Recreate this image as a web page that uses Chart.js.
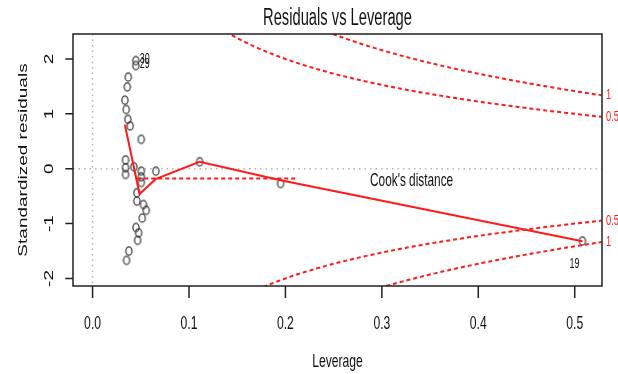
<!DOCTYPE html>
<html>
<head>
<meta charset="UTF-8">
<title>Residuals vs Leverage</title>
<script src="https://cdn.jsdelivr.net/npm/chart.js"></script>
<style>
  html, body { margin: 0; padding: 0; background: #fff; }
  #wrap { width: 618px; height: 374px; }
</style>
</head>
<body>
<div id="wrap"><canvas id="plot" width="618" height="374"></canvas></div>
<script>
// observations (index + 1 = observation number)
const leverage = [0.0342, 0.0342, 0.0342, 0.0428, 0.0505, 0.0505, 0.0505, 0.0459, 0.0459, 0.0656,
                  0.0528, 0.0556, 0.0515, 0.0450, 0.0477, 0.0467, 0.0376, 0.0352, 0.5080, 0.1110,
                  0.1950, 0.0370, 0.0360, 0.0335, 0.0349, 0.0366, 0.0390, 0.0505, 0.0449, 0.0449];
const stdResid = [0.16, 0.017, -0.105, 0.035, -0.044, -0.148, -0.25, -0.44, -0.59, -0.044,
                  -0.653, -0.757, -0.90, -1.07, -1.17, -1.305, -1.50, -1.67, -1.318, 0.126,
                  -0.27, 1.67, 1.49, 1.25, 1.08, 0.90, 0.78, 0.535, 1.88, 1.97];
const labelledObs = [30, 29, 19];

// red smoother through the points
const smoothX = [0.0335, 0.0487, 0.0653, 0.111, 0.195, 0.508];
const smoothY = [0.80, -0.46, -0.19, 0.125, -0.21, -1.32];

// dashed reference segment
const refX = [0.0463, 0.210];
const refY = [-0.177, -0.177];

// Cook's distance contour levels, model with 2 coefficients
const cookLevels = [0.5, 1];
const nCoef = 2;

const xTicks = [0.0, 0.1, 0.2, 0.3, 0.4, 0.5];
const xTickLabels = ['0.0', '0.1', '0.2', '0.3', '0.4', '0.5'];
const yTicks = [-2, -1, 0, 1, 2];
const yTickLabels = ['-2', '-1', '0', '1', '2'];

const SX = 0.64;   // horizontal squeeze of the text
const FONT = '"Liberation Sans", Arial, sans-serif';

function cookCurve(level, sign) {
  const pts = [];
  for (let h = 0.12; h <= 0.5284; h += 0.004) {
    pts.push({ x: h, y: sign * Math.sqrt(level * nCoef * (1 - h) / h) });
  }
  return pts;
}

// open circle marker, slightly taller than wide
const marker = document.createElement('canvas');
marker.width = 10; marker.height = 12;
(function () {
  const c = marker.getContext('2d');
  c.strokeStyle = '#333';
  c.lineWidth = 1.2;
  c.beginPath();
  c.ellipse(5, 6, 3.1, 4.1, 0, 0, Math.PI * 2);
  c.stroke();
})();

const points = leverage.map((h, i) => ({ x: h, y: stdResid[i] }));
const smooth = smoothX.map((x, i) => ({ x: x, y: smoothY[i] }));
const refLine = refX.map((x, i) => ({ x: x, y: refY[i] }));

const datasets = [];
cookLevels.forEach(lv => {
  [1, -1].forEach(sg => {
    datasets.push({
      data: cookCurve(lv, sg), showLine: true, borderColor: '#ff1a1a',
      borderWidth: 2, borderDash: [4, 3], pointRadius: 0, tension: 0
    });
  });
});
datasets.push({ data: refLine, showLine: true, borderColor: '#ff1a1a', borderWidth: 2,
  borderDash: [4, 3], pointRadius: 0 });
datasets.push({ data: smooth, showLine: true, borderColor: '#ff1a1a', borderWidth: 2,
  pointRadius: 0, tension: 0 });
datasets.push({ data: points, showLine: false, pointStyle: marker, pointRadius: 5 });

function hText(ctx, str, x, y, size, align, weight, color) {
  ctx.save();
  ctx.translate(x, y);
  ctx.scale(SX, 1);
  ctx.font = (weight || 'normal') + ' ' + size + 'px ' + FONT;
  ctx.textAlign = align || 'center';
  ctx.textBaseline = 'middle';
  ctx.fillStyle = color || '#111';
  ctx.fillText(str, 0, 0);
  ctx.restore();
}

function vText(ctx, str, x, y, size) {
  ctx.save();
  ctx.translate(x, y);
  ctx.scale(SX, 1);
  ctx.rotate(-Math.PI / 2);
  ctx.font = size + 'px ' + FONT;
  ctx.textAlign = 'center';
  ctx.textBaseline = 'middle';
  ctx.fillStyle = '#111';
  ctx.fillText(str, 0, 0);
  ctx.restore();
}

// zero lines drawn under the data
const zeroLines = {
  id: 'zeroLines',
  beforeDatasetsDraw(chart) {
    const { ctx, chartArea: a, scales: { x, y } } = chart;
    ctx.save();
    ctx.strokeStyle = '#b5b5b5';
    ctx.lineWidth = 1.5;
    ctx.setLineDash([1.5, 4]);
    const x0 = x.getPixelForValue(0), y0 = y.getPixelForValue(0);
    ctx.beginPath();
    ctx.moveTo(x0, a.top); ctx.lineTo(x0, a.bottom);
    ctx.moveTo(a.left, y0); ctx.lineTo(a.right, y0);
    ctx.stroke();
    ctx.restore();
  }
};

// box, axes and all text
const frame = {
  id: 'frame',
  afterDraw(chart) {
    const { ctx, chartArea: a, scales: { x, y } } = chart;
    ctx.save();
    ctx.strokeStyle = '#222';
    ctx.lineWidth = 1.5;
    ctx.strokeRect(a.left, a.top, a.right - a.left, a.bottom - a.top);
    ctx.beginPath();
    xTicks.forEach(v => {
      const px = x.getPixelForValue(v);
      ctx.moveTo(px, a.bottom); ctx.lineTo(px, a.bottom + 12);
    });
    yTicks.forEach(v => {
      const py = y.getPixelForValue(v);
      ctx.moveTo(a.left, py); ctx.lineTo(a.left - 7.7, py);
    });
    ctx.stroke();
    ctx.restore();

    xTicks.forEach((v, i) => hText(ctx, xTickLabels[i], x.getPixelForValue(v), 324, 19));
    yTicks.forEach((v, i) => vText(ctx, yTickLabels[i], 50, y.getPixelForValue(v), 19));

    hText(ctx, 'Residuals vs Leverage', (a.left + a.right) / 2, 19, 23, 'center');
    hText(ctx, 'Leverage', (a.left + a.right) / 2, 362, 19);
    vText(ctx, 'Standardized residuals', 24, (a.top + a.bottom) / 2, 19);
    hText(ctx, "Cook's distance", 370, 181, 18.5, 'left');

    // contour levels in the right margin
    const hMax = x.max;
    cookLevels.forEach(lv => {
      const r = Math.sqrt(lv * nCoef * (1 - hMax) / hMax);
      [1, -1].forEach(sg => {
        hText(ctx, String(lv), a.right + 4, y.getPixelForValue(sg * r), 14.5, 'left', 'normal', '#ff1a1a');
      });
    });

    // observation numbers of the largest residuals
    labelledObs.forEach(n => {
      const px = x.getPixelForValue(leverage[n - 1]);
      const py = y.getPixelForValue(stdResid[n - 1]);
      if (n === 19) hText(ctx, String(n), px - 8, py + 23, 14, 'center');
      else hText(ctx, String(n), px + 4, py - 1, 14, 'left');
    });
  }
};

new Chart(document.getElementById('plot'), {
  type: 'scatter',
  data: { datasets: datasets },
  options: {
    responsive: false,
    animation: false,
    devicePixelRatio: 1,
    layout: { padding: { left: 73, right: 16, top: 34, bottom: 88 } },
    scales: {
      x: { type: 'linear', display: false, min: -0.0203, max: 0.5283 },
      y: { type: 'linear', display: false, min: -2.137, max: 2.455 }
    },
    plugins: { legend: { display: false }, tooltip: { enabled: false } }
  },
  plugins: [zeroLines, frame]
});
</script>
</body>
</html>
